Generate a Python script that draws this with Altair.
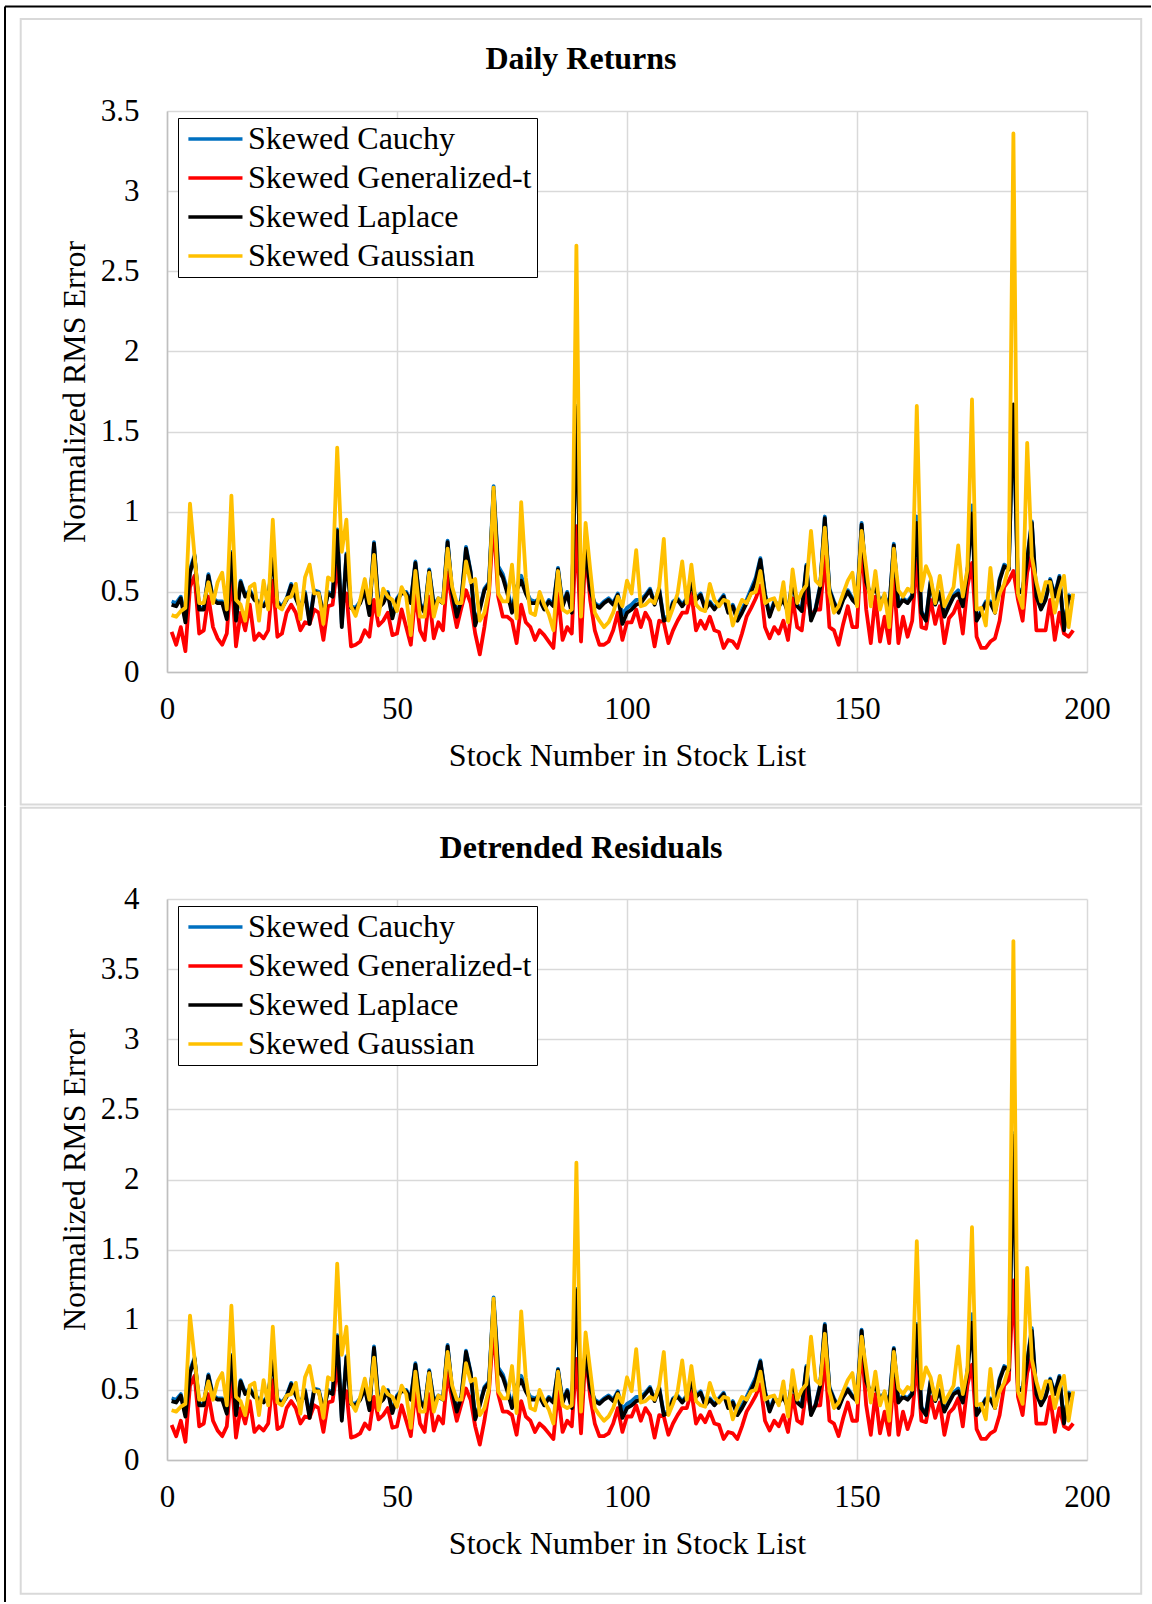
import altair as alt
import pandas as pd

SERIF = "Liberation Serif"
SERIES = ["Skewed Cauchy", "Skewed Generalized-t", "Skewed Laplace", "Skewed Gaussian"]
COLORS = ["#0070C0", "#FF0000", "#000000", "#FFC000"]
STOCKS = list(range(1, 198))
X_TICKS = [0, 50, 100, 150, 200]
Y_TICKS_DR = [0, 0.5, 1, 1.5, 2, 2.5, 3, 3.5]
Y_TICKS_RES = [0, 0.5, 1, 1.5, 2, 2.5, 3, 3.5, 4]

# ---- Daily returns ----
DR_CAUCHY = [
    0.44, 0.43, 0.47, 0.33, 0.64, 0.73, 0.40, 0.40, 0.61, 0.46,
    0.44, 0.44, 0.35, 0.75, 0.34, 0.57, 0.48, 0.51, 0.46, 0.44,
    0.42, 0.46, 0.73, 0.44, 0.41, 0.46, 0.55, 0.47, 0.40, 0.50,
    0.32, 0.51, 0.50, 0.36, 0.50, 0.48, 0.89, 0.30, 0.74, 0.41,
    0.40, 0.44, 0.52, 0.37, 0.81, 0.41, 0.44, 0.50, 0.35, 0.46,
    0.50, 0.50, 0.44, 0.69, 0.43, 0.38, 0.64, 0.42, 0.46, 0.44,
    0.82, 0.50, 0.36, 0.46, 0.78, 0.63, 0.30, 0.40, 0.52, 0.56,
    1.16, 0.66, 0.61, 0.51, 0.39, 0.53, 0.60, 0.51, 0.45, 0.44,
    0.46, 0.40, 0.45, 0.42, 0.65, 0.42, 0.50, 0.38, 1.66, 0.40,
    0.79, 0.52, 0.43, 0.41, 0.44, 0.46, 0.43, 0.49, 0.36, 0.40,
    0.42, 0.45, 0.45, 0.48, 0.52, 0.43, 0.52, 0.33, 0.35, 0.44,
    0.46, 0.42, 0.46, 0.56, 0.46, 0.49, 0.40, 0.44, 0.40, 0.44,
    0.48, 0.38, 0.42, 0.34, 0.39, 0.45, 0.52, 0.59, 0.71, 0.49,
    0.36, 0.44, 0.42, 0.46, 0.38, 0.58, 0.42, 0.39, 0.67, 0.33,
    0.40, 0.54, 0.97, 0.52, 0.44, 0.38, 0.46, 0.51, 0.46, 0.43,
    0.93, 0.57, 0.48, 0.54, 0.44, 0.48, 0.40, 0.80, 0.42, 0.46,
    0.44, 0.48, 0.97, 0.38, 0.33, 0.57, 0.43, 0.50, 0.36, 0.42,
    0.48, 0.51, 0.42, 0.63, 1.04, 0.33, 0.38, 0.44, 0.44, 0.38,
    0.58, 0.67, 0.65, 1.66, 0.50, 0.52, 0.71, 0.94, 0.48, 0.40,
    0.46, 0.58, 0.48, 0.60, 0.27, 0.48, 0.46]
DR_GENT = [
    0.25, 0.17, 0.28, 0.13, 0.53, 0.60, 0.24, 0.26, 0.47, 0.28,
    0.21, 0.17, 0.24, 0.62, 0.16, 0.37, 0.26, 0.42, 0.20, 0.24,
    0.21, 0.26, 0.57, 0.22, 0.24, 0.37, 0.42, 0.37, 0.26, 0.31,
    0.30, 0.39, 0.37, 0.20, 0.41, 0.42, 0.66, 0.41, 0.49, 0.16,
    0.17, 0.19, 0.26, 0.22, 0.45, 0.29, 0.32, 0.37, 0.23, 0.24,
    0.39, 0.28, 0.17, 0.49, 0.26, 0.20, 0.47, 0.21, 0.31, 0.26,
    0.62, 0.43, 0.28, 0.40, 0.51, 0.43, 0.24, 0.11, 0.28, 0.49,
    0.95, 0.47, 0.345, 0.345, 0.32, 0.18, 0.42, 0.31, 0.28, 0.20,
    0.26, 0.23, 0.19, 0.15, 0.49, 0.20, 0.28, 0.24, 0.91, 0.19,
    0.76, 0.45, 0.26, 0.17, 0.17, 0.19, 0.26, 0.37, 0.20, 0.31,
    0.31, 0.39, 0.28, 0.37, 0.32, 0.16, 0.32, 0.31, 0.18, 0.26,
    0.32, 0.37, 0.37, 0.49, 0.26, 0.32, 0.27, 0.345, 0.26, 0.25,
    0.15, 0.20, 0.19, 0.15, 0.24, 0.345, 0.40, 0.46, 0.54, 0.28,
    0.21, 0.28, 0.24, 0.32, 0.20, 0.46, 0.28, 0.26, 0.51, 0.345,
    0.39, 0.39, 0.72, 0.28, 0.26, 0.17, 0.30, 0.41, 0.28, 0.28,
    0.82, 0.39, 0.18, 0.47, 0.19, 0.345, 0.18, 0.58, 0.18, 0.345,
    0.22, 0.32, 0.70, 0.28, 0.27, 0.45, 0.30, 0.41, 0.18, 0.335,
    0.37, 0.44, 0.24, 0.53, 0.68, 0.22, 0.15, 0.15, 0.19, 0.21,
    0.32, 0.53, 0.57, 0.63, 0.45, 0.32, 0.62, 0.74, 0.26, 0.26,
    0.26, 0.45, 0.20, 0.37, 0.24, 0.22, 0.26]
DR_LAPLACE = [
    0.42, 0.41, 0.46, 0.31, 0.62, 0.72, 0.39, 0.39, 0.60, 0.45,
    0.43, 0.43, 0.33, 0.74, 0.32, 0.56, 0.47, 0.50, 0.45, 0.43,
    0.41, 0.45, 0.72, 0.43, 0.40, 0.45, 0.54, 0.46, 0.39, 0.49,
    0.30, 0.50, 0.49, 0.35, 0.49, 0.47, 0.88, 0.28, 0.73, 0.40,
    0.39, 0.43, 0.51, 0.355, 0.80, 0.40, 0.43, 0.49, 0.335, 0.45,
    0.49, 0.49, 0.43, 0.68, 0.42, 0.37, 0.63, 0.41, 0.45, 0.43,
    0.81, 0.49, 0.345, 0.45, 0.77, 0.62, 0.29, 0.39, 0.51, 0.55,
    1.13, 0.64, 0.59, 0.49, 0.37, 0.51, 0.57, 0.49, 0.43, 0.43,
    0.45, 0.39, 0.44, 0.41, 0.64, 0.41, 0.49, 0.37, 1.65, 0.39,
    0.78, 0.51, 0.42, 0.40, 0.43, 0.45, 0.42, 0.48, 0.30, 0.37,
    0.39, 0.42, 0.43, 0.47, 0.51, 0.42, 0.51, 0.32, 0.335, 0.43,
    0.45, 0.41, 0.45, 0.55, 0.45, 0.48, 0.39, 0.43, 0.39, 0.43,
    0.47, 0.37, 0.41, 0.32, 0.37, 0.43, 0.50, 0.57, 0.70, 0.48,
    0.345, 0.43, 0.41, 0.45, 0.37, 0.57, 0.41, 0.38, 0.66, 0.32,
    0.39, 0.53, 0.96, 0.51, 0.43, 0.37, 0.45, 0.50, 0.45, 0.42,
    0.92, 0.56, 0.47, 0.53, 0.43, 0.47, 0.39, 0.79, 0.41, 0.45,
    0.43, 0.47, 0.93, 0.37, 0.32, 0.56, 0.42, 0.49, 0.345, 0.41,
    0.47, 0.49, 0.41, 0.62, 0.99, 0.32, 0.37, 0.43, 0.43, 0.37,
    0.57, 0.66, 0.64, 1.67, 0.49, 0.51, 0.70, 0.93, 0.47, 0.39,
    0.45, 0.57, 0.47, 0.59, 0.26, 0.47, 0.45]
DR_GAUSS = [
    0.355, 0.345, 0.38, 0.40, 1.05, 0.72, 0.43, 0.43, 0.56, 0.43,
    0.56, 0.62, 0.39, 1.10, 0.45, 0.42, 0.32, 0.53, 0.55, 0.32,
    0.57, 0.39, 0.95, 0.41, 0.39, 0.46, 0.47, 0.55, 0.33, 0.59,
    0.67, 0.49, 0.49, 0.30, 0.59, 0.57, 1.40, 0.75, 0.95, 0.41,
    0.35, 0.45, 0.58, 0.43, 0.73, 0.355, 0.52, 0.47, 0.45, 0.38,
    0.53, 0.47, 0.23, 0.63, 0.345, 0.345, 0.62, 0.345, 0.46, 0.43,
    0.77, 0.53, 0.43, 0.43, 0.69, 0.56, 0.58, 0.32, 0.37, 0.51,
    1.15, 0.49, 0.44, 0.44, 0.67, 0.335, 1.06, 0.59, 0.37, 0.355,
    0.50, 0.42, 0.36, 0.26, 0.63, 0.39, 0.37, 0.39, 2.66, 0.345,
    0.93, 0.64, 0.37, 0.32, 0.28, 0.31, 0.37, 0.47, 0.41, 0.57,
    0.49, 0.76, 0.41, 0.42, 0.45, 0.43, 0.53, 0.83, 0.32, 0.40,
    0.49, 0.69, 0.43, 0.67, 0.42, 0.39, 0.38, 0.55, 0.45, 0.41,
    0.45, 0.44, 0.29, 0.38, 0.45, 0.43, 0.49, 0.50, 0.63, 0.43,
    0.45, 0.46, 0.39, 0.56, 0.31, 0.64, 0.43, 0.50, 0.54, 0.88,
    0.57, 0.54, 0.90, 0.49, 0.37, 0.41, 0.49, 0.57, 0.62, 0.41,
    0.88, 0.65, 0.41, 0.63, 0.39, 0.49, 0.28, 0.77, 0.51, 0.47,
    0.52, 0.50, 1.66, 0.51, 0.66, 0.59, 0.43, 0.60, 0.41, 0.47,
    0.53, 0.79, 0.47, 0.64, 1.70, 0.39, 0.40, 0.29, 0.65, 0.37,
    0.49, 0.55, 0.66, 3.36, 0.49, 0.40, 1.43, 0.72, 0.56, 0.44,
    0.56, 0.56, 0.37, 0.51, 0.60, 0.28, 0.49]

# ---- Detrended residuals ----
RES_CAUCHY = [
    0.44, 0.43, 0.47, 0.33, 0.64, 0.73, 0.40, 0.40, 0.61, 0.46,
    0.44, 0.44, 0.35, 0.75, 0.34, 0.57, 0.48, 0.51, 0.46, 0.44,
    0.42, 0.46, 0.73, 0.44, 0.41, 0.46, 0.55, 0.47, 0.40, 0.50,
    0.32, 0.51, 0.50, 0.36, 0.50, 0.48, 0.89, 0.30, 0.74, 0.41,
    0.40, 0.44, 0.52, 0.37, 0.81, 0.41, 0.44, 0.50, 0.35, 0.46,
    0.50, 0.50, 0.44, 0.69, 0.43, 0.38, 0.64, 0.42, 0.46, 0.44,
    0.82, 0.50, 0.36, 0.46, 0.78, 0.63, 0.30, 0.40, 0.52, 0.56,
    1.16, 0.66, 0.61, 0.51, 0.39, 0.53, 0.60, 0.51, 0.45, 0.44,
    0.46, 0.40, 0.45, 0.42, 0.65, 0.42, 0.50, 0.38, 1.22, 0.40,
    0.79, 0.52, 0.43, 0.41, 0.44, 0.46, 0.43, 0.49, 0.36, 0.40,
    0.42, 0.45, 0.45, 0.48, 0.52, 0.43, 0.52, 0.33, 0.35, 0.44,
    0.46, 0.42, 0.46, 0.56, 0.46, 0.49, 0.40, 0.44, 0.40, 0.44,
    0.48, 0.38, 0.42, 0.34, 0.39, 0.45, 0.52, 0.59, 0.71, 0.49,
    0.36, 0.44, 0.42, 0.46, 0.38, 0.58, 0.42, 0.39, 0.67, 0.33,
    0.40, 0.54, 0.97, 0.52, 0.44, 0.38, 0.46, 0.51, 0.46, 0.43,
    0.93, 0.57, 0.48, 0.54, 0.44, 0.48, 0.40, 0.80, 0.42, 0.46,
    0.44, 0.48, 0.97, 0.38, 0.33, 0.57, 0.43, 0.50, 0.36, 0.42,
    0.48, 0.51, 0.42, 0.63, 1.04, 0.33, 0.38, 0.44, 0.44, 0.38,
    0.58, 0.67, 0.65, 2.33, 0.50, 0.52, 0.71, 0.94, 0.48, 0.40,
    0.46, 0.58, 0.48, 0.60, 0.27, 0.48, 0.46]
RES_GENT = [
    0.25, 0.17, 0.28, 0.13, 0.53, 0.60, 0.24, 0.26, 0.47, 0.28,
    0.21, 0.17, 0.24, 0.62, 0.16, 0.37, 0.26, 0.42, 0.20, 0.24,
    0.21, 0.26, 0.57, 0.22, 0.24, 0.37, 0.42, 0.37, 0.26, 0.31,
    0.30, 0.39, 0.37, 0.20, 0.41, 0.42, 0.66, 0.41, 0.49, 0.16,
    0.17, 0.19, 0.26, 0.22, 0.45, 0.29, 0.32, 0.37, 0.23, 0.24,
    0.39, 0.28, 0.17, 0.49, 0.26, 0.20, 0.47, 0.21, 0.31, 0.26,
    0.62, 0.43, 0.28, 0.40, 0.51, 0.43, 0.24, 0.11, 0.28, 0.49,
    0.95, 0.47, 0.345, 0.345, 0.32, 0.18, 0.42, 0.31, 0.28, 0.20,
    0.26, 0.23, 0.19, 0.15, 0.49, 0.20, 0.28, 0.24, 0.72, 0.19,
    0.76, 0.45, 0.26, 0.17, 0.17, 0.19, 0.26, 0.37, 0.20, 0.31,
    0.31, 0.39, 0.28, 0.37, 0.32, 0.16, 0.32, 0.31, 0.18, 0.26,
    0.32, 0.37, 0.37, 0.49, 0.26, 0.32, 0.27, 0.345, 0.26, 0.25,
    0.15, 0.20, 0.19, 0.15, 0.24, 0.345, 0.40, 0.46, 0.54, 0.28,
    0.21, 0.28, 0.24, 0.32, 0.20, 0.46, 0.28, 0.26, 0.51, 0.345,
    0.39, 0.39, 0.72, 0.28, 0.26, 0.17, 0.30, 0.41, 0.28, 0.28,
    0.82, 0.39, 0.18, 0.47, 0.19, 0.345, 0.18, 0.58, 0.18, 0.345,
    0.22, 0.32, 0.70, 0.28, 0.27, 0.45, 0.30, 0.41, 0.18, 0.335,
    0.37, 0.44, 0.24, 0.53, 0.68, 0.22, 0.15, 0.15, 0.19, 0.21,
    0.32, 0.53, 0.57, 1.28, 0.45, 0.32, 0.62, 0.74, 0.26, 0.26,
    0.26, 0.45, 0.20, 0.37, 0.24, 0.22, 0.26]
RES_LAPLACE = [
    0.42, 0.41, 0.46, 0.31, 0.62, 0.72, 0.39, 0.39, 0.60, 0.45,
    0.43, 0.43, 0.33, 0.74, 0.32, 0.56, 0.47, 0.50, 0.45, 0.43,
    0.41, 0.45, 0.72, 0.43, 0.40, 0.45, 0.54, 0.46, 0.39, 0.49,
    0.30, 0.50, 0.49, 0.35, 0.49, 0.47, 0.88, 0.28, 0.73, 0.40,
    0.39, 0.43, 0.51, 0.355, 0.80, 0.40, 0.43, 0.49, 0.335, 0.45,
    0.49, 0.49, 0.43, 0.68, 0.42, 0.37, 0.63, 0.41, 0.45, 0.43,
    0.81, 0.49, 0.345, 0.45, 0.77, 0.62, 0.29, 0.39, 0.51, 0.55,
    1.13, 0.64, 0.59, 0.49, 0.37, 0.51, 0.57, 0.49, 0.43, 0.43,
    0.45, 0.39, 0.44, 0.41, 0.64, 0.41, 0.49, 0.37, 1.21, 0.39,
    0.78, 0.51, 0.42, 0.40, 0.43, 0.45, 0.42, 0.48, 0.30, 0.37,
    0.39, 0.42, 0.43, 0.47, 0.51, 0.42, 0.51, 0.32, 0.335, 0.43,
    0.45, 0.41, 0.45, 0.55, 0.45, 0.48, 0.39, 0.43, 0.39, 0.43,
    0.47, 0.37, 0.41, 0.32, 0.37, 0.43, 0.50, 0.57, 0.70, 0.48,
    0.345, 0.43, 0.41, 0.45, 0.37, 0.57, 0.41, 0.38, 0.66, 0.32,
    0.39, 0.53, 0.96, 0.51, 0.43, 0.37, 0.45, 0.50, 0.45, 0.42,
    0.92, 0.56, 0.47, 0.53, 0.43, 0.47, 0.39, 0.79, 0.41, 0.45,
    0.43, 0.47, 0.96, 0.37, 0.32, 0.56, 0.42, 0.49, 0.345, 0.41,
    0.47, 0.49, 0.41, 0.62, 0.98, 0.32, 0.37, 0.43, 0.43, 0.37,
    0.57, 0.66, 0.64, 2.31, 0.49, 0.51, 0.70, 0.92, 0.47, 0.39,
    0.45, 0.57, 0.47, 0.59, 0.26, 0.47, 0.45]
RES_GAUSS = [
    0.355, 0.345, 0.38, 0.40, 1.03, 0.72, 0.43, 0.43, 0.56, 0.43,
    0.56, 0.62, 0.39, 1.10, 0.45, 0.42, 0.32, 0.53, 0.55, 0.32,
    0.57, 0.39, 0.95, 0.41, 0.39, 0.46, 0.47, 0.55, 0.33, 0.59,
    0.67, 0.49, 0.49, 0.30, 0.59, 0.57, 1.40, 0.75, 0.95, 0.41,
    0.35, 0.45, 0.58, 0.43, 0.73, 0.355, 0.52, 0.47, 0.45, 0.38,
    0.53, 0.47, 0.23, 0.63, 0.345, 0.345, 0.62, 0.345, 0.46, 0.43,
    0.77, 0.53, 0.43, 0.43, 0.69, 0.56, 0.58, 0.32, 0.37, 0.51,
    1.15, 0.49, 0.44, 0.44, 0.67, 0.335, 1.06, 0.59, 0.37, 0.355,
    0.50, 0.42, 0.36, 0.26, 0.63, 0.39, 0.37, 0.39, 2.12, 0.345,
    0.91, 0.64, 0.37, 0.32, 0.28, 0.31, 0.37, 0.47, 0.41, 0.59,
    0.49, 0.79, 0.41, 0.42, 0.45, 0.43, 0.53, 0.77, 0.32, 0.40,
    0.49, 0.71, 0.43, 0.67, 0.42, 0.39, 0.38, 0.55, 0.45, 0.41,
    0.45, 0.44, 0.29, 0.38, 0.45, 0.43, 0.49, 0.50, 0.63, 0.43,
    0.45, 0.46, 0.39, 0.56, 0.31, 0.64, 0.43, 0.50, 0.54, 0.88,
    0.57, 0.54, 0.90, 0.49, 0.37, 0.41, 0.49, 0.57, 0.62, 0.41,
    0.88, 0.65, 0.41, 0.63, 0.39, 0.49, 0.28, 0.77, 0.51, 0.47,
    0.52, 0.50, 1.56, 0.51, 0.66, 0.59, 0.43, 0.60, 0.41, 0.47,
    0.53, 0.81, 0.47, 0.64, 1.66, 0.39, 0.40, 0.29, 0.65, 0.37,
    0.49, 0.55, 0.66, 3.70, 0.49, 0.40, 1.37, 0.72, 0.56, 0.44,
    0.56, 0.56, 0.37, 0.51, 0.60, 0.28, 0.49]

PANELS = [
    ("Daily Returns", [DR_CAUCHY, DR_GENT, DR_LAPLACE, DR_GAUSS], 3.5, Y_TICKS_DR),
    ("Detrended Residuals", [RES_CAUCHY, RES_GENT, RES_LAPLACE, RES_GAUSS], 4.0, Y_TICKS_RES),
]

W, H = 920, 561
ONE = pd.DataFrame({"k": [0]})
GRID = "#d9d9d9"


def long_table(series_values):
    rows = []
    for name, vals in zip(SERIES, series_values):
        assert len(vals) == len(STOCKS), (name, len(vals))
        for s, v in zip(STOCKS, vals):
            rows.append({"stock": s, "value": v, "series": name})
    return pd.DataFrame(rows)


def panel(title, series_values, y_max, y_ticks, first):
    df = long_table(series_values)

    x = alt.X(
        "stock:Q",
        scale=alt.Scale(domain=[0, 200], nice=False),
        axis=alt.Axis(
            values=X_TICKS, title="Stock Number in Stock List",
            grid=True, gridColor=GRID, gridWidth=1.5,
            domainColor="#bfbfbf", domainWidth=1.5,
            ticks=False, tickSize=0, labelPadding=22, labelFlush=False,
            labelFont=SERIF, labelFontSize=31, labelColor="black",
            titleFont=SERIF, titleFontSize=32, titleFontWeight="normal",
            titleColor="black", titleX=W / 2, titleY=83,
            titleBaseline="middle", titleAlign="center",
        ),
    )
    y = alt.Y(
        "value:Q",
        scale=alt.Scale(domain=[0, y_max], nice=False, zero=True),
        axis=alt.Axis(
            values=y_ticks, labelExpr="'' + datum.value",
            title="Normalized RMS Error",
            grid=True, gridColor=GRID, gridWidth=1.5,
            domainColor="#bfbfbf", domainWidth=1.5,
            ticks=False, tickSize=0, labelPadding=28, labelFlush=False,
            labelOverlap=False,
            labelFont=SERIF, labelFontSize=31, labelColor="black",
            titleFont=SERIF, titleFontSize=32, titleFontWeight="normal",
            titleColor="black", titleX=-93, titleY=H / 2, titleAngle=270,
            titleBaseline="middle", titleAlign="center",
        ),
    )
    # short horizontal stroke drawn to the right of the symbol anchor
    legend = alt.Legend(
        orient="none", legendX=11, legendY=7, title=None,
        strokeColor="black", fillColor="white", padding=5,
        symbolType="M-1,0H4.1", symbolSize=450, symbolStrokeWidth=3.5,
        labelFont=SERIF, labelFontSize=32, labelColor="black",
        labelOffset=33, labelLimit=0, rowPadding=7,
    )
    color = alt.Color(
        "series:N", scale=alt.Scale(domain=SERIES, range=COLORS), legend=legend
    )

    # panel card outline in light grey
    box_top = -92.1 if first else -91.3
    box_bottom = 693.5 if first else 694.7
    card = alt.Chart(ONE).mark_rect(
        fill="white", fillOpacity=0, stroke="#d9d9d9", strokeWidth=2
    ).encode(
        x=alt.value(-146.3), x2=alt.value(974.2),
        y=alt.value(box_top), y2=alt.value(box_bottom),
    )

    # outer black frame (left edge, plus top edge on the first panel)
    frame = []
    if first:
        frame.append(alt.Chart(ONE).mark_rule(color="black", strokeWidth=2).encode(
            x=alt.value(-162), y=alt.value(-104.5), y2=alt.value(695.5)))
        frame.append(alt.Chart(ONE).mark_rule(color="black", strokeWidth=2).encode(
            x=alt.value(-162), x2=alt.value(984), y=alt.value(-104.5)))
    else:
        frame.append(alt.Chart(ONE).mark_rule(color="black", strokeWidth=2).encode(
            x=alt.value(-162), y=alt.value(-92.5), y2=alt.value(703)))

    lines = [
        alt.Chart(df)
        .transform_filter(alt.datum.series == name)
        .mark_line(strokeWidth=3.8, strokeJoin="round")
        .encode(x=x, y=y, color=color)
        for name in SERIES
    ]

    heading = alt.Chart(ONE).mark_text(
        text=title, font=SERIF, fontSize=32, fontWeight="bold",
        color="black", baseline="middle", align="center",
    ).encode(x=alt.value(414), y=alt.value(-52.5 if first else -51.3))

    return alt.layer(card, *frame, *lines, heading).properties(width=W, height=H)


top = panel(*PANELS[0], first=True)
bottom = panel(*PANELS[1], first=False)

chart = (
    alt.vconcat(top, bottom, spacing=-3)
    .resolve_scale(x="independent", y="independent", color="independent")
    .resolve_legend(color="independent")
    .properties(padding={"left": 4, "top": 5, "right": 0, "bottom": 0},
                background="white")
    .configure_view(strokeWidth=0)
)

chart.save("out.html", embed_options={"renderer": "svg", "actions": False})
